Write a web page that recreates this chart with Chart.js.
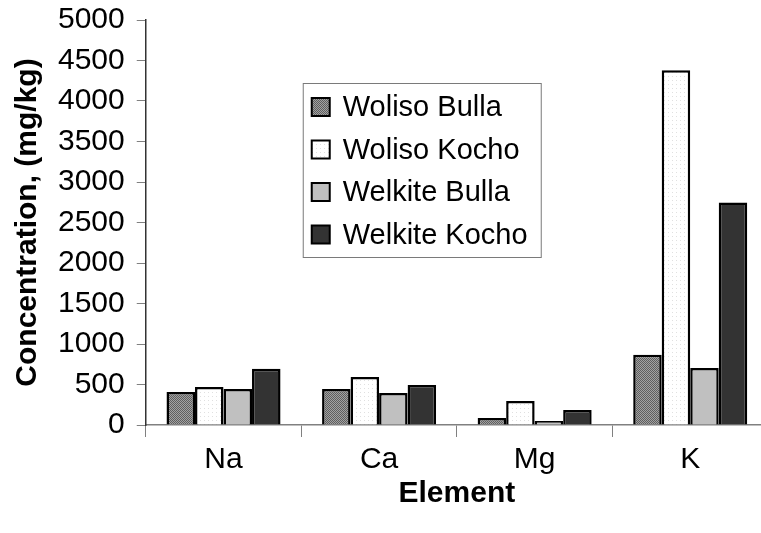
<!DOCTYPE html>
<html>
<head>
<meta charset="utf-8">
<script src="https://cdn.jsdelivr.net/npm/chart.js@4"></script>
<style>
  html, body { margin: 0; padding: 0; background: #fff; overflow: hidden; }
  #wrap { width: 776px; height: 533px; }
</style>
</head>
<body>
<div id="wrap"><canvas id="grafico" width="776" height="533"></canvas></div>
<script>
const elementos = ["Na", "Ca", "Mg", "K"];
const wolisoBulla = [408, 445, 87, 866];
const wolisoKocho = [470, 594, 297, 4381];
const welkiteBulla = [445, 396, 50, 705];
const welkiteKocho = [693, 495, 186, 2748];
const series = ["Woliso Bulla", "Woliso Kocho", "Welkite Bulla", "Welkite Kocho"];

function padrao(cores, tam) {
  const c = document.createElement("canvas");
  c.width = tam; c.height = tam;
  const g = c.getContext("2d");
  for (let y = 0; y < tam; y++) {
    for (let x = 0; x < tam; x++) {
      g.fillStyle = cores(x, y);
      g.fillRect(x, y, 1, 1);
    }
  }
  return g.createPattern(c, "repeat");
}

const ctx = document.getElementById("grafico").getContext("2d");
const pCinza = padrao((x, y) => ((x + y) % 2 === 0 ? "#5e5e5e" : "#a2a2a2"), 2);
const pBranco = padrao((x, y) => (x % 4 === 0 && y % 4 === 0 ? "#e0e0e0" : "#ffffff"), 4);

const legendaCaixa = {
  id: "legendaCaixa",
  afterDraw(chart) {
    const a = chart.chartArea;
    const c = chart.ctx;
    const x0 = a.left + 157, y0 = a.top + 63, w = 238, h = 174;
    c.save();
    c.fillStyle = "#fff";
    c.fillRect(x0, y0, w, h);
    c.strokeStyle = "#7a7a7a";
    c.lineWidth = 1;
    c.strokeRect(x0 + 0.5, y0 + 0.5, w, h);
    c.font = "29px 'Liberation Sans', Arial, sans-serif";
    c.textBaseline = "middle";
    chart.data.datasets.forEach((ds, i) => {
      const cy = y0 + 24 + i * 42.5;
      c.fillStyle = ds.backgroundColor;
      c.fillRect(x0 + 9, cy - 9, 18, 18);
      c.strokeStyle = "#000";
      c.lineWidth = 2;
      c.strokeRect(x0 + 9, cy - 9, 18, 18);
      c.fillStyle = "#000";
      c.fillText(ds.label, x0 + 40, cy + 1);
    });
    c.restore();
  }
};

new Chart(ctx, {
  type: "bar",
  data: {
    labels: elementos,
    datasets: [
      { label: series[0], data: wolisoBulla, backgroundColor: pCinza },
      { label: series[1], data: wolisoKocho, backgroundColor: pBranco },
      { label: series[2], data: welkiteBulla, backgroundColor: "#c0c0c0" },
      { label: series[3], data: welkiteKocho, backgroundColor: "#333333" }
    ].map(d => Object.assign(d, {
      borderColor: "#000",
      borderWidth: 2.5,
      borderSkipped: "bottom",
      categoryPercentage: 0.733,
      barPercentage: 1
    }))
  },
  options: {
    responsive: false,
    animation: false,
    devicePixelRatio: 1,
    layout: { padding: { left: 10, top: 20, right: 8, bottom: 24 } },
    plugins: {
      legend: { display: false },
      tooltip: { enabled: false }
    },
    scales: {
      x: {
        grid: { drawOnChartArea: false, color: "#808080", tickLength: 12, offset: true },
        border: { color: "#808080", width: 1.5 },
        afterFit(s) { s.paddingLeft = 0; s.paddingRight = 0; },
        ticks: {
          color: "#000",
          padding: 8,
          font: { family: "'Liberation Sans', Arial, sans-serif", size: 30, lineHeight: 1 }
        },
        title: {
          display: true,
          text: "Element",
          color: "#000",
          padding: { top: -4, bottom: 0 },
          font: { family: "'Liberation Sans', Arial, sans-serif", size: 30, weight: "bold", lineHeight: 1 }
        }
      },
      y: {
        min: 0,
        max: 5000,
        grid: { drawOnChartArea: false, color: "#808080", tickLength: 9 },
        border: { color: "#333", width: 1.5 },
        afterFit(s) { s.paddingTop = 0; s.paddingBottom = 0; },
        ticks: {
          stepSize: 500,
          autoSkip: false,
          color: "#000",
          padding: 12,
          callback: v => String(v),
          font: { family: "'Liberation Sans', Arial, sans-serif", size: 30 }
        },
        title: {
          display: true,
          text: "Concentration, (mg/kg)",
          color: "#000",
          padding: { top: 0, bottom: 0 },
          font: { family: "'Liberation Sans', Arial, sans-serif", size: 30, weight: "bold" }
        }
      }
    }
  },
  plugins: [legendaCaixa]
});
</script>
</body>
</html>
